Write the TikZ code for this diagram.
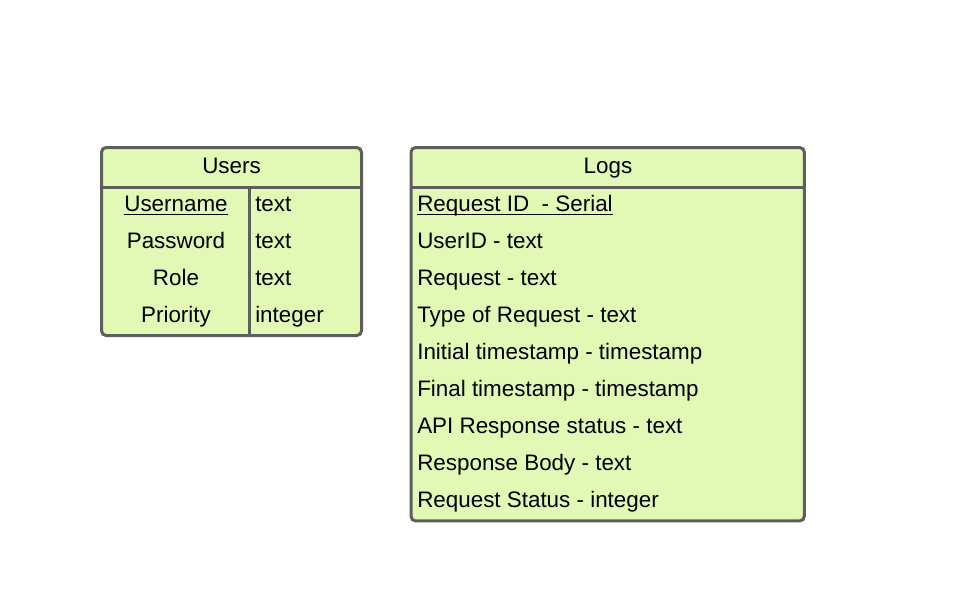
\documentclass[tikz,border=0pt]{standalone}
\usepackage{fontspec}
\setmainfont{Liberation Sans}
\definecolor{edge}{HTML}{5E5E5E}
\definecolor{rowfill}{HTML}{E2F9B6}
\begin{document}
\begin{tikzpicture}[x=0.75pt,y=-0.75pt,
  tbl/.style={draw=edge, line width=2.25pt, fill=rowfill, rounded corners=3.5pt,
              inner sep=0pt, outer sep=0pt, anchor=north west},
  sep/.style={draw=edge, line width=2.25pt},
  cell/.style={font=\fontsize{16.8}{20}\selectfont, inner sep=0pt, text=black},
  keycell/.style={cell, anchor=base},
  leftcell/.style={cell, anchor=base west},
  keyline/.style={draw=black, line width=1.4pt}]
\useasboundingbox (0,0) rectangle (956,608);

% Users table
\node[tbl, minimum width=195pt, minimum height=141pt] (users) at (101.5,147.5) {};
\draw[sep] (101.5,187.5) -- (361.5,187.5);
\draw[sep] (249,187.5) -- (249,335.5);
\node[keycell] (usersTitle) at (231.5,173) {Users};
\node[keycell] (uName) at (176,211.5) {Username};
\node[keycell] (uPass) at (176,248.5) {Password};
\node[keycell] (uRole) at (176,285.5) {Role};
\node[keycell] (uPrio) at (176,322.5) {Priority};
\node[leftcell] (tName) at (255,211.5) {text};
\node[leftcell] (tPass) at (255,248.5) {text};
\node[leftcell] (tRole) at (255,285.5) {text};
\node[leftcell] (tPrio) at (255,322.5) {integer};
\draw[keyline] ([yshift=-2.2pt]uName.base west) -- ([yshift=-2.2pt]uName.base east);

% Logs table
\node[tbl, minimum width=295pt, minimum height=280.1pt] (logs) at (411,147.5) {};
\draw[sep] (411,187.5) -- (804.3,187.5);
\node[keycell] (logsTitle) at (608,173) {Logs};
\node[leftcell] (lId)   at (417,211.5) {Request ID\ \ - Serial};
\node[leftcell] (lUser) at (417,248.5) {UserID - text};
\node[leftcell] (lReq)  at (417,285.5) {Request - text};
\node[leftcell] (lType) at (417,322.5) {Type of Request - text};
\node[leftcell] (lInit) at (417,359.5) {Initial timestamp - timestamp};
\node[leftcell] (lFin)  at (417,396.5) {Final timestamp - timestamp};
\node[leftcell] (lApi)  at (417,433.5) {API Response status - text};
\node[leftcell] (lBody) at (417,470.5) {Response Body - text};
\node[leftcell] (lStat) at (417,507.5) {Request Status - integer};
\draw[keyline] ([yshift=-2.2pt]lId.base west) -- ([yshift=-2.2pt]lId.base east);
\end{tikzpicture}
\end{document}
